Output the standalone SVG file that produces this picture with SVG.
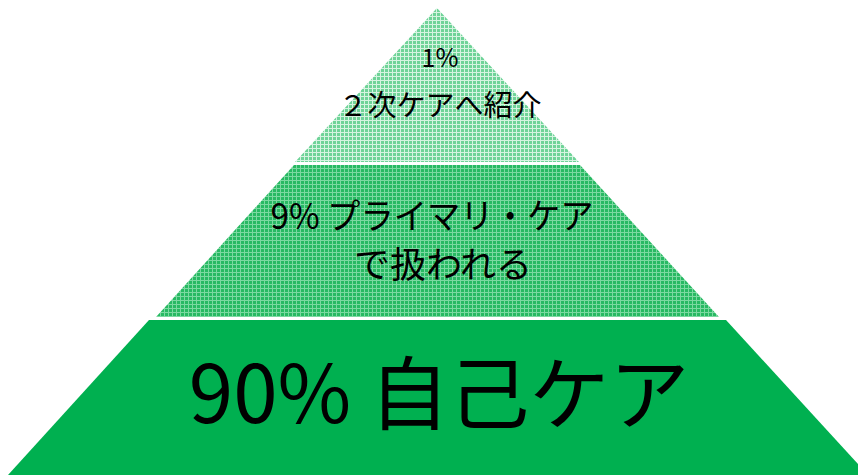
<svg xmlns="http://www.w3.org/2000/svg" width="858" height="475" viewBox="0 0 858 475">
<defs>
<style>
.t{font-family:"Noto Sans CJK JP","Noto Sans",sans-serif;fill:#000;text-anchor:middle}
</style>
<pattern id="pTop" width="4" height="4" patternUnits="userSpaceOnUse">
<rect width="4" height="4" fill="#6FD398"/>
<rect width="4" height="1" fill="#D6F4E1"/>
<rect width="1" height="4" fill="#D6F4E1"/>
</pattern>
<pattern id="pMid" width="4" height="4" patternUnits="userSpaceOnUse">
<rect width="4" height="4" fill="#28B963"/>
<rect width="4" height="1" fill="#7CD9A1"/>
<rect width="1" height="4" fill="#7CD9A1"/>
</pattern>
</defs>
<rect width="858" height="475" fill="#fff"/>
<g id="top">
<polygon points="437,8 579,162 295,162" fill="url(#pTop)"/>
<text class="t" x="440" y="67" font-size="25">1%</text>
<text class="t" x="440" y="116" font-size="29">２次ケアへ紹介</text>
</g>
<g id="middle">
<polygon points="294,165 580,165 719,317 156,317" fill="url(#pMid)"/>
<text class="t" x="432" y="229" font-size="35" textLength="323" lengthAdjust="spacingAndGlyphs">9% プライマリ・ケア</text>
<text class="t" x="443" y="278" font-size="36">で扱われる</text>
</g>
<g id="bottom">
<polygon points="149,320 726,320 868,475 8,475" fill="#00B050"/>
<text class="t" x="439" y="423" font-size="80">90% 自己ケア</text>
</g>
</svg>
